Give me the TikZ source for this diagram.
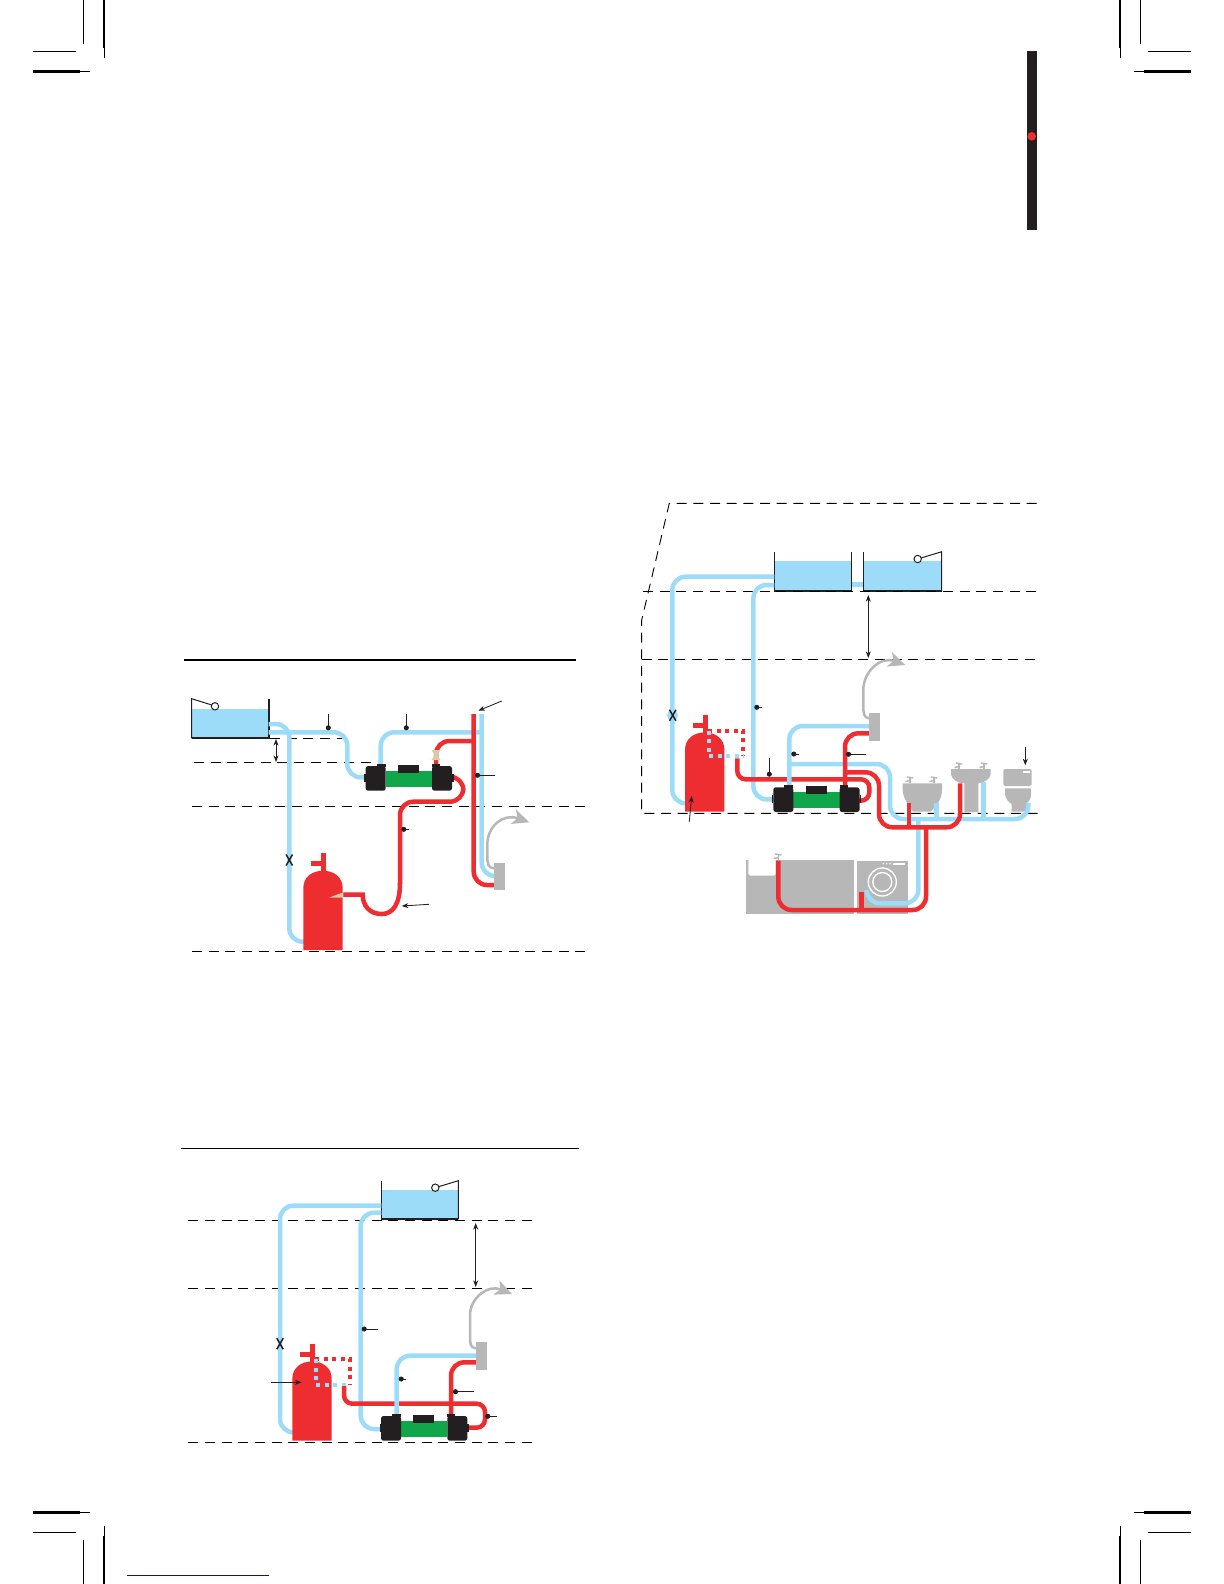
\documentclass[tikz,border=0pt]{standalone}
\usepackage{xcolor}
\usepackage{tikz}
\usetikzlibrary{arrows.meta}
\definecolor{coldblue}{HTML}{9CDCF9}
\definecolor{hotred}{HTML}{EE2D30}
\definecolor{bodygreen}{HTML}{10A74A}
\definecolor{inkblack}{HTML}{231F20}
\definecolor{fixgrey}{HTML}{B7B7B7}
\definecolor{valvetan}{HTML}{DCCBA8}
\definecolor{linknavy}{HTML}{10108C}
\tikzset{
  coldpipe/.style={draw=coldblue,line width=2.7pt,rounded corners=8pt},
  hotpipe/.style={draw=hotred,line width=2.7pt,rounded corners=8pt},
  hotloop/.style={draw=hotred,line width=2.7pt,rounded corners=5pt},
  coldspot/.style={draw=coldblue,line width=2.5pt,dash pattern=on 2.5pt off 2.6pt},
  hotspot/.style={draw=hotred,line width=2.5pt,dash pattern=on 2.5pt off 2.6pt},
  ventpipe/.style={draw=fixgrey,line width=1.5pt,-{Stealth[length=10pt,width=9pt,inset=2.5pt]}},
  levelline/.style={draw=black,line width=0.55pt,dash pattern=on 6pt off 4pt},
  fixture/.style={fill=fixgrey},
  water/.style={fill=coldblue},
  wall/.style={draw=inkblack,line width=0.6pt},
  floor/.style={draw=inkblack,line width=1pt},
  leader/.style={draw=inkblack,line width=0.5pt,-{Circle[length=3pt]}},
  pointer/.style={draw=inkblack,line width=0.5pt,-{Stealth[length=4pt,width=3pt]}},
  span/.style={draw=inkblack,line width=0.5pt,{Stealth[length=4pt,width=3pt]}-{Stealth[length=4pt,width=3pt]}},
  hotcylinder/.pic={
    \fill[hotred] (0,0) -- (0,-62) .. controls (0,-73) and (9,-79.3) .. (19.7,-79.3) .. controls (30.4,-79.3) and (39.4,-73) .. (39.4,-62) -- (39.4,0) -- cycle;
    \fill[hotred] (18,-78) rectangle (22.7,-97);
    \fill[hotred] (8,-84) rectangle (18,-89);
  },
  heater/.pic={
    \fill[bodygreen] (20,5) rectangle (66.3,20.7);
    \fill[inkblack] (32.3,-1) rectangle (53.3,6.7);
    \fill[inkblack,rounded corners=1.5pt] (0,0) rectangle (20,24.7);
    \fill[inkblack,rounded corners=1.5pt] (66.3,0) rectangle (86.3,24.7);
    \fill[inkblack] (11,-2) rectangle (20,1);
    \fill[inkblack] (66.3,-2) rectangle (74.3,1);
    \fill[inkblack] (-1.5,8) rectangle (0,16);
    \fill[inkblack] (86.3,8) rectangle (87.8,16);
  },
  stopmark/.pic={
    \draw[inkblack,line width=0.9pt] (-3.2,-5.5) -- (3.2,5.5);
    \draw[inkblack,line width=0.9pt] (3.2,-5.5) -- (-3.2,5.5);
  },
  tapmark/.pic={
    \draw[fixgrey,line width=0.9pt] (0,0) -- (0,-5.5);
    \draw[fixgrey,line width=0.9pt] (-3.2,-6) -- (3.2,-5);
    \draw[fixgrey,line width=0.9pt] (0,-2.5) -- (-4.5,-1.5);
  }
}
\begin{document}
\begin{tikzpicture}[x=0.6pt,y=-0.6pt]
\useasboundingbox (0,0) rectangle (1224,1584);

\foreach \cx/\cy in {1/1,-1/1,1/-1,-1/-1}{
  \begin{scope}[shift={(612,792)},xscale=\cx,yscale=\cy,shift={(-612,-792)}]
    \draw[black,line width=0.6pt] (83.3,0) -- (83.3,43.7);
    \draw[black,line width=1.5pt] (104,0) -- (104,47.7);
    \draw[black,line width=0.6pt] (104,47.7) -- (104,57.7);
    \draw[black,line width=0.6pt] (33,51.3) -- (76,51.3);
    \draw[black,line width=1.5pt] (33,71.7) -- (80,71.7);
    \draw[black,line width=0.6pt] (80,71.7) -- (90,71.7);
  \end{scope}
}
\draw[linknavy,line width=0.7pt] (127,1575.3) -- (268.7,1575.3);
\fill[inkblack] (1027,51) rectangle (1037,230);
\fill[hotred] (1031.7,136.3) circle[radius=4.3];

\draw[black,line width=1.1pt] (184,659.7) -- (576,659.7);
\fill[water] (191.7,709) rectangle (269,738.3);
\draw[wall] (191.7,738.3) -- (191.7,698.7) -- (215,706);
\draw[wall,fill=white] (215,706.3) circle[radius=3.7];
\draw[floor] (269,699) -- (269,738.3) -- (191.7,738.3);
\draw[levelline] (270,738.3) -- (343,738.3);
\draw[levelline] (194,762.3) -- (376,762.3);
\draw[levelline] (192,806.3) -- (587,806.3);
\draw[levelline] (192,951.3) -- (587,951.3);
\draw[coldpipe] (268.7,724) -- (289.3,724) -- (289.3,941.7) -- (305,941.7);
\draw[coldpipe] (268.7,732.3) -- (347.3,732.3) -- (347.3,777.3) -- (367,777.3);
\draw[coldpipe] (380.7,768) -- (380.7,732.3) -- (483,732.3);
\draw[coldpipe] (481.7,714) -- (481.7,876) -- (495,876);
\pic at (303.3,950) {hotcylinder};
\draw[hotpipe] (473.7,714) -- (473.7,885) -- (495,885);
\draw[hotpipe] (436,767) -- (436,741) -- (473.7,741);
\draw[hotpipe] (450,776.7) -- (463.3,776.7) -- (463.3,801.7) -- (400,801.7) -- (400,884);
\draw[draw=hotred,line width=2.7pt] (400,883) .. controls (400,904) and (393,914) .. (381.7,914) .. controls (370,914) and (362.7,906) .. (362.7,894.7) -- (343,894.7);
\fill[valvetan] (329.3,897.5) -- (343.3,892.3) -- (343.3,897.5) -- cycle;
\fill[valvetan] (431.5,750) -- (440.5,750) -- (437.5,755) -- (440.5,760) -- (431.5,760) -- (434.5,755) -- cycle;
\pic at (365.7,766) {heater};
\fill[fixture] (494,863) rectangle (505,890);
\draw[ventpipe] (494,868.3) .. controls (488,868) and (487.3,864) .. (487.3,856) -- (487.3,845) .. controls (487.3,826) and (503,813) .. (529.3,822.3);
\pic at (289.3,860) {stopmark};
\draw[span] (276,739) -- (276,762);
\draw[leader] (328.3,714) -- (328.3,730.3);
\draw[leader] (406.3,714) -- (406.3,730.3);
\draw[leader] (495,775.3) -- (475,775.3);
\draw[leader] (409,829.3) -- (401.3,829.3);
\draw[pointer] (501.7,701) -- (478.3,710.7);
\draw[pointer] (429,904.3) -- (401.7,906);

\draw[black,line width=0.7pt] (181,1148.3) -- (578.7,1148.3);
\fill[water] (381.3,1190) rectangle (458.3,1219.3);
\draw[wall] (381.3,1181) -- (381.3,1219.3);
\draw[wall] (458.3,1219.3) -- (458.3,1180.7) -- (435.3,1187.7);
\draw[wall,fill=white] (435.3,1187.7) circle[radius=3.7];
\draw[floor] (381.3,1219.3) -- (458.3,1219.3);
\draw[levelline] (188.3,1220.3) -- (533.3,1220.3);
\draw[levelline] (188.3,1288.3) -- (533.3,1288.3);
\draw[levelline] (188.3,1442.3) -- (533.3,1442.3);
\draw[coldpipe] (381.3,1205.7) -- (280,1205.7) -- (280,1432.3) -- (294,1432.3);
\draw[coldpipe] (381.3,1212.7) -- (360.7,1212.7) -- (360.7,1429) -- (382,1429);
\pic at (292.3,1440.7) {hotcylinder};
\draw[hotspot] (315,1359.3) -- (350,1359.3) -- (350,1385);
\draw[coldspot] (316,1359.3) -- (316,1384.7) -- (350,1384.7);
\draw[hotloop] (465,1427.7) -- (485,1427.7) -- (485,1403.7) -- (344,1403.7) -- (344,1386);
\draw[coldpipe] (396.7,1416) -- (396.7,1355.7) -- (477,1355.7);
\draw[hotpipe] (451,1416) -- (451,1362.3) -- (477,1362.3);
\pic at (381,1416) {heater};
\fill[fixture] (476,1342) rectangle (486.7,1369.7);
\draw[ventpipe] (476,1348.3) .. controls (470,1348) and (470,1343) .. (470,1335) -- (470,1315) .. controls (470,1298) and (488,1284) .. (512,1294);
\pic at (280,1343.7) {stopmark};
\draw[span] (475.7,1223) -- (475.7,1287);
\draw[pointer] (271,1382.3) -- (301.7,1382.3);
\draw[leader] (378,1329) -- (361.7,1329);
\draw[leader] (405.7,1379) -- (398.7,1379);
\draw[leader] (474,1391.7) -- (453,1391.7);
\draw[leader] (497,1416.3) -- (485.3,1416.3);

\fill[water] (774.3,561) rectangle (851.7,590.7);
\fill[water] (863.3,561) rectangle (941.7,590.7);
\draw[wall] (774.3,552) -- (774.3,590.7);
\draw[wall] (851.7,552) -- (851.7,590.7);
\draw[wall] (863.3,552) -- (863.3,590.7);
\draw[wall] (941.7,590.7) -- (941.7,551.7) -- (917.7,559);
\draw[wall,fill=white] (917.7,559) circle[radius=3.7];
\draw[floor] (774.3,590.7) -- (851.7,590.7);
\draw[floor] (863.3,590.7) -- (941.7,590.7);
\draw[levelline] (1036.7,503.3) -- (669.3,503.3) -- (641.7,620) -- (641.7,813.3) -- (1038,813.3);
\draw[levelline] (643,591.3) -- (1038,591.3);
\draw[levelline] (641.7,659.3) -- (1038,659.3);
\fill[fixture] (745.7,860) rectangle (854,914);
\fill[white,rounded corners=1.5pt] (748.3,855) rectangle (775.7,875.7);
\fill[fixture] (857,861) rectangle (908.3,914);
\draw[white,line width=0.8pt] (882.3,882) circle[radius=14];
\draw[white,line width=0.8pt] (882.3,882) circle[radius=9.5];
\draw[white,line width=1pt] (893,863.7) -- (905,863.7);
\foreach \knob in {883.3,886.7,890}{
  \fill[white] (\knob,863.7) circle[radius=0.8];
}
\pic at (778.3,860) {tapmark};
\fill[fixture] (902.7,783.3) -- (942,783.3) -- (942,790) .. controls (942,800) and (935,808) .. (930,811.7) -- (913,811.7) .. controls (908,805) and (902.7,797) .. (902.7,790) -- cycle;
\pic at (910,783) {tapmark};
\pic at (934,783) {tapmark};
\fill[fixture] (951,769) -- (990.7,769) -- (990.7,773) .. controls (990.7,780) and (982,783.3) .. (978.3,783.3) -- (978.3,812) -- (964.3,812) -- (964.3,783.3) .. controls (958,783.3) and (951,780) .. (951,773) -- cycle;
\pic at (959,769) {tapmark};
\pic at (984,769) {tapmark};
\fill[fixture,rounded corners=1pt] (1003.3,769) rectangle (1031.7,786);
\fill[white] (1023,771) rectangle (1030,773);
\fill[fixture] (1005,788.3) -- (1031,788.3) -- (1031,795) .. controls (1031,800) and (1027,803) .. (1026,804) -- (1026.7,811.7) -- (1011.7,811.7) -- (1011.7,804) .. controls (1008,802) and (1005,798) .. (1005,793) -- cycle;
\draw[coldpipe] (774.3,576.7) -- (672.3,576.7) -- (672.3,803.3) -- (686,803.3);
\draw[coldpipe] (774.3,585) -- (753.3,585) -- (753.3,799.3) -- (774,799.3);
\draw[coldpipe] (851.7,584.3) -- (863.3,584.3);
\draw[coldpipe] (789.3,764) -- (890,764) -- (890,819) -- (1028.3,819) -- (1028.3,803);
\draw[coldpipe] (936.7,819) -- (936.7,803);
\draw[coldpipe] (983.3,819) -- (983.3,781.7);
\draw[coldpipe] (918.3,819) -- (918.3,903.3) -- (866.7,903.3) -- (866.7,891.7);
\fill[water] (672.5,715.3) circle[radius=5.5];
\pic at (685,811.7) {hotcylinder};
\draw[hotspot] (708.3,730.7) -- (743.3,730.7) -- (743.3,756);
\draw[coldspot] (709,730.7) -- (709,756) -- (743.3,756);
\draw[hotloop] (859,800.7) -- (869.3,800.7) -- (869.3,779.3) -- (737.3,779.3) -- (737.3,758.3);
\draw[coldpipe] (789.3,787) -- (789.3,726) -- (870,726);
\draw[hotpipe] (845,787) -- (845,733.3) -- (870,733.3);
\draw[hotpipe] (845,772.3) -- (879,772.3) -- (879,827.3) -- (960,827.3) -- (960,783.3);
\draw[hotpipe] (909,827.3) -- (909,803.3);
\draw[hotpipe] (926,827.3) -- (926,910) -- (778.3,910) -- (778.3,860.7);
\draw[hotpipe] (861.3,910) -- (861.3,892.3);
\pic at (773.3,787.3) {heater};
\fill[fixture] (869.3,713.3) rectangle (880,740.7);
\draw[ventpipe] (869.3,718.3) .. controls (863.5,718) and (863.3,713) .. (863.3,705) -- (863.3,690) .. controls (863.3,672) and (880,656) .. (905.3,665);
\pic at (672.7,715.3) {stopmark};
\draw[span] (868.3,595) -- (868.3,658);
\draw[leader] (762,707.3) -- (754.3,707.3);
\draw[leader] (799,754) -- (791.3,754);
\draw[leader] (866,754.3) -- (846,754.3);
\draw[leader] (769.3,757.7) -- (769.3,776.7);
\draw[pointer] (689.3,821.7) -- (691.7,796);
\draw[pointer] (1025.3,746.7) -- (1025.3,765.3);
\end{tikzpicture}
\end{document}
